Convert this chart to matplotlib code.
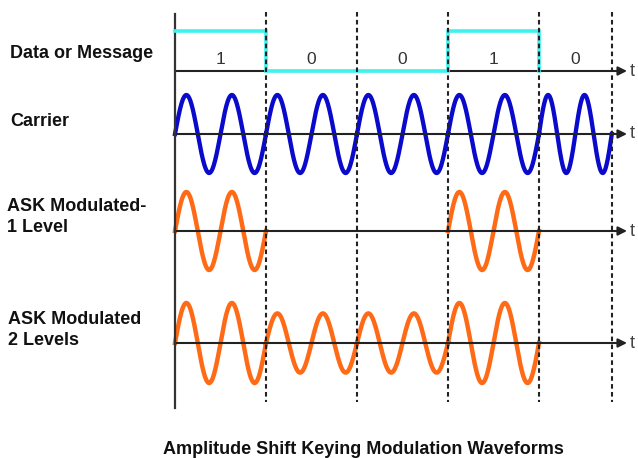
import numpy as np
import matplotlib
matplotlib.use("Agg")
from matplotlib import pyplot as plt

plt.rcParams["font.family"] = ["Liberation Sans", "DejaVu Sans"]

# bit stream and per-bit widths (last bit is drawn shorter)
bits = [1, 0, 0, 1, 0]
bit_widths = [1.0, 1.0, 1.0, 1.0, 0.8]
cycles_per_bit = 2
ask2_levels = {1: 1.0, 0: 0.74}
ask_bits_drawn = 4  # modulated rows stop after the 4th bit

row_labels = ["Data or Message", "Carrier", "ASK Modulated-\n1 Level", "ASK Modulated\n2 Levels"]
title = "Amplitude Shift Keying Modulation Waveforms"

# layout in pixels
W, H = 638, 458
x0, px_per_bit = 175, 91
rows_y = [71, 134, 231, 343]
amp = 39
data_high = 40

fig = plt.figure(figsize=(W / 100, H / 100), dpi=100)
ax = fig.add_axes([0, 0, 1, 1])
ax.set_xlim(-x0 / px_per_bit, (W - x0) / px_per_bit)
ax.set_ylim(H, 0)
ax.axis("off")

starts = np.concatenate([[0], np.cumsum(bit_widths)])
t_tip = (627 - x0) / px_per_bit
axis_col = "#222222"


def px(x):
    return (x - x0) / px_per_bit


def wave(n_bits, amp_of_bit):
    ts, ys = [], []
    for i in range(n_bits):
        s, w = starts[i], bit_widths[i]
        t = np.linspace(s, s + w, 200)
        y = np.sin(2 * np.pi * cycles_per_bit * (t - s) / w) * amp_of_bit(bits[i])
        ts.append(t)
        ys.append(y)
        ts.append([np.nan])
        ys.append([np.nan])
    return np.concatenate(ts), np.concatenate(ys)


# time axes with arrows
for y in rows_y:
    ax.annotate("", xy=(t_tip, y), xytext=(0, y),
                arrowprops=dict(arrowstyle="-|>", color=axis_col, lw=1.5,
                                mutation_scale=13, shrinkA=0, shrinkB=0),
                zorder=3)
    ax.text(t_tip + 0.03, y, "t", fontsize=13, color="#444444",
            ha="left", va="center")

# vertical axis
ax.plot([0, 0], [14, 408], color="#333333", lw=1.6, zorder=3)

# data signal
tx, dy = [], []
for i, b in enumerate(bits):
    tx += [starts[i], starts[i + 1]]
    dy += [rows_y[0] - data_high * b] * 2
    ax.text((starts[i] + starts[i + 1]) / 2, 60, str(b), fontsize=12.5,
            color="#333333", ha="center", va="center")
# cyan line stops after the 4th bit
n_pts = 2 * ask_bits_drawn
ax.plot(tx[:n_pts] + [tx[n_pts - 1]], dy[:n_pts] + [rows_y[0]],
        color="#3EF2EE", lw=2.6, zorder=4, solid_joinstyle="miter")

# carrier
tc, yc = wave(len(bits), lambda b: 1.0)
ax.plot(tc, rows_y[1] - amp * yc, color="#0A0ACC", lw=3.1, zorder=2)

# ASK one level (on/off)
t1, y1 = wave(ask_bits_drawn, lambda b: 1.0 if b else np.nan)
ax.plot(t1, rows_y[2] - amp * y1, color="#FF6A16", lw=3.2, zorder=2)

# ASK two levels
t2, y2 = wave(ask_bits_drawn, lambda b: ask2_levels[b])
ax.plot(t2, rows_y[3] - 40 * y2, color="#FF6A16", lw=3.2, zorder=2)

# bit boundaries
for s in starts[1:]:
    ax.plot([s, s], [12, 402], color="#222222", lw=1.5,
            linestyle=(0, (2.2, 1.6)), zorder=5)

# row labels
label_y = [54, 121, 217, 330]
label_x = [10, 10, 7, 8]
for lx, ly, lab in zip(label_x, label_y, row_labels):
    ax.text(px(lx), ly, lab, fontsize=13, fontweight="bold",
            color="#111111", ha="left", va="center", linespacing=1.25)

ax.text(px(363), 450, title, fontsize=13, fontweight="bold",
        color="#111111", ha="center", va="center")

fig.savefig("out.png", dpi=100, facecolor="white")
